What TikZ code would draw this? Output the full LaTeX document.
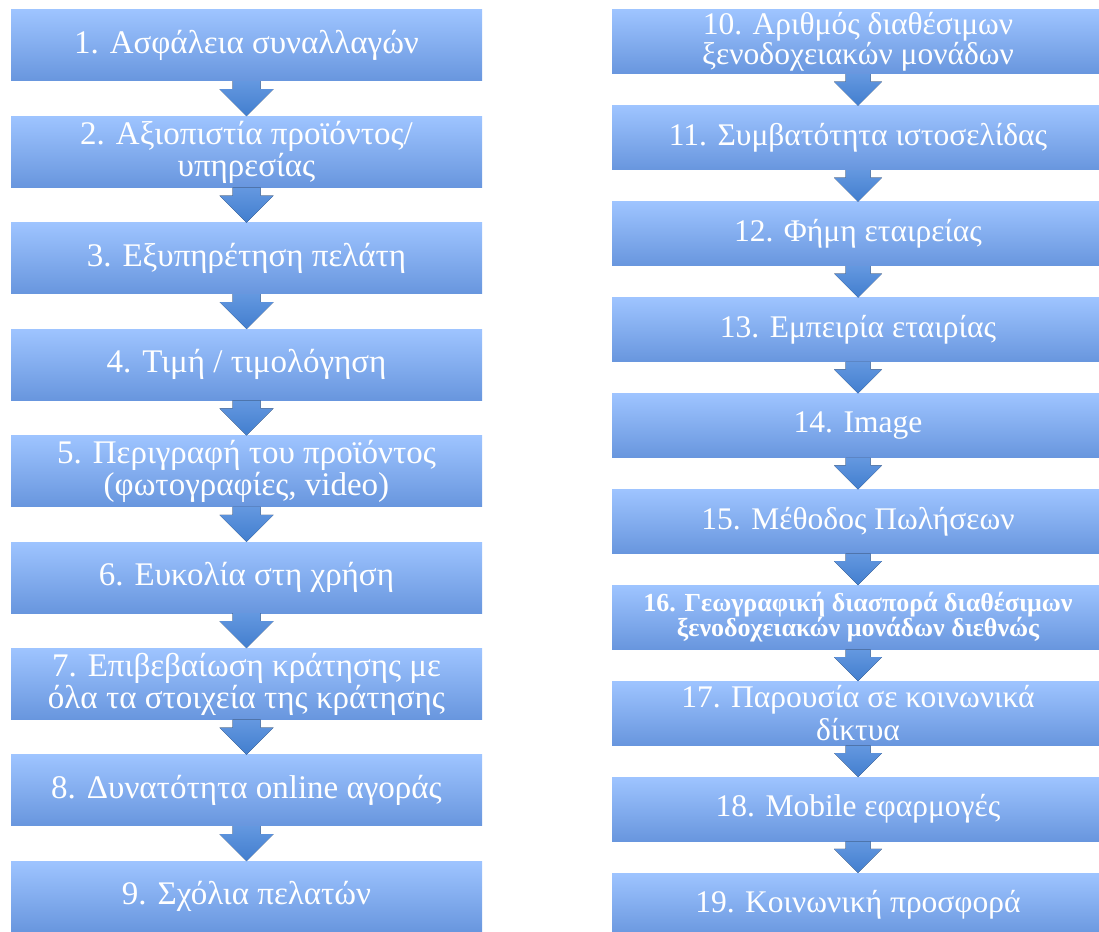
\documentclass[tikz,border=0pt]{standalone}
\usepackage{fontspec}
\setmainfont{Liberation Serif}
\usetikzlibrary{calc}
\definecolor{boxtop}{RGB}{158,196,255}
\definecolor{boxbot}{RGB}{104,150,222}
\definecolor{arrtop}{RGB}{100,152,224}
\definecolor{arrbot}{RGB}{66,126,206}
\newcommand\flowarrow[5]{%
  \fill[arr] ($(#1.south)+(-#3,0)$) -- ($(#2.north)+(-#3,-#5)$) -- ($(#2.north)+(-#4,-#5)$)
    -- (#2.north) -- ($(#2.north)+(#4,-#5)$) -- ($(#2.north)+(#3,-#5)$)
    -- ($(#1.south)+(#3,0)$) -- cycle;}
\begin{document}
\begin{tikzpicture}[x=1pt,y=-1pt,
  lbox/.style={rectangle, inner sep=0pt, top color=boxtop, bottom color=boxbot,
    text=white, align=center, minimum width=471pt, minimum height=71pt,
    font=\fontsize{33}{32}\selectfont},
  rbox/.style={rectangle, inner sep=0pt, top color=boxtop, bottom color=boxbot,
    text=white, align=center, minimum width=492pt, minimum height=64pt,
    font=\fontsize{31.5}{30}\selectfont},
  arr/.style={top color=arrtop, bottom color=arrbot}]
\useasboundingbox (0,0) rectangle (1099,931);
% left column
\node[lbox] (b1) at (246.5,45.5) {1. Ασφάλεια συναλλαγών};
\node[lbox] (b2) at (246.5,151.9) {2. Αξιοπιστία προϊόντος/\\υπηρεσίας};
\node[lbox] (b3) at (246.5,258.3) {3. Εξυπηρέτηση πελάτη};
\node[lbox] (b4) at (246.5,364.7) {4. Τιμή / τιμολόγηση};
\node[lbox] (b5) at (246.5,471.1) {5. Περιγραφή του προϊόντος\\(φωτογραφίες, video)};
\node[lbox] (b6) at (246.5,577.5) {6. Ευκολία στη χρήση};
\node[lbox] (b7) at (246.5,683.9) {7. Επιβεβαίωση κράτησης με\\όλα τα στοιχεία της κράτησης};
\node[lbox] (b8) at (246.5,790.3) {8. Δυνατότητα online αγοράς};
\node[lbox] (b9) at (246.5,896.7) {9. Σχόλια πελατών};
% right column
\node[rbox, font=\fontsize{31.5}{25}\selectfont] (b10) at (858,42) {10. Αριθμός διαθέσιμων\\ξενοδοχειακών μονάδων};
\node[rbox] (b11) at (858,137.9) {11. Συμβατότητα ιστοσελίδας};
\node[rbox] (b12) at (858,233.8) {12. Φήμη εταιρείας};
\node[rbox] (b13) at (858,329.7) {13. Εμπειρία εταιρίας};
\node[rbox] (b14) at (858,425.6) {14. Image};
\node[rbox] (b15) at (858,521.5) {15. Μέθοδος Πωλήσεων};
\node[rbox, font=\bfseries\fontsize{26}{25}\selectfont] (b16) at (858,617.4) {16. Γεωγραφική διασπορά διαθέσιμων\\ξενοδοχειακών μονάδων διεθνώς};
\node[rbox, font=\fontsize{31.5}{33}\selectfont] (b17) at (858,713.3) {17. Παρουσία σε κοινωνικά\\δίκτυα};
\node[rbox] (b18) at (858,809.2) {18. Mobile εφαρμογές};
\node[rbox] (b19) at (858,905.1) {19. Κοινωνική προσφορά};
% arrows
\foreach \a/\b in {b1/b2,b2/b3,b3/b4,b4/b5,b5/b6,b6/b7,b7/b8,b8/b9}
  {\flowarrow{\a}{\b}{14}{27}{27}}
\foreach \a/\b in {b10/b11,b11/b12,b12/b13,b13/b14,b14/b15,b15/b16,b16/b17,b17/b18,b18/b19}
  {\flowarrow{\a}{\b}{12.5}{24}{24}}
\end{tikzpicture}
\end{document}
